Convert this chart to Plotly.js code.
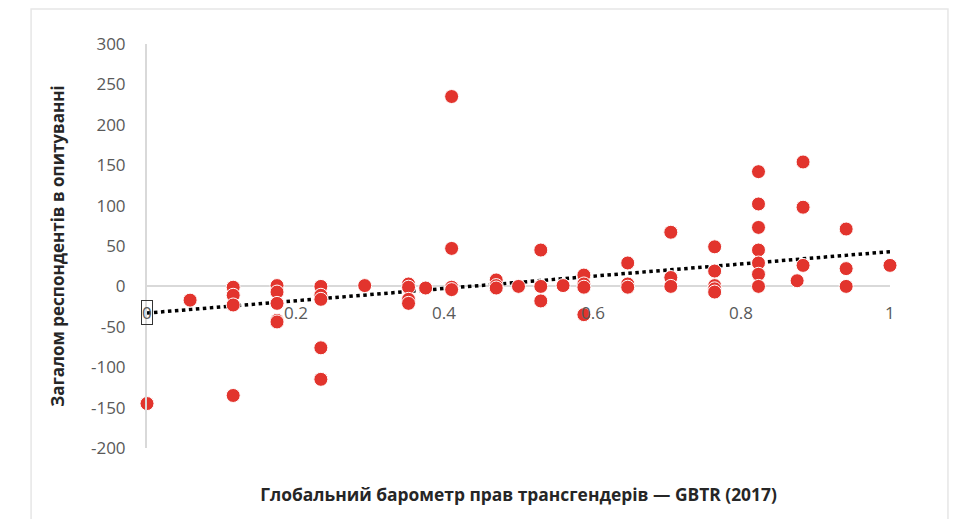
<!DOCTYPE html>
<html>
<head>
<meta charset="utf-8">
<script src="https://cdn.plot.ly/plotly-3.0.1.min.js"></script>
<style>html,body{margin:0;padding:0;background:#fff;}#chart{width:957px;height:519px;}</style>
</head>
<body>
<div id="chart"></div>
<script>
// GBTR (2017) score for each country
const gbtr = [
  0,
  0.058,
  0.116, 0.116, 0.116, 0.116,
  0.175, 0.175, 0.175, 0.175, 0.175,
  0.234, 0.234, 0.234, 0.234, 0.234,
  0.293,
  0.352, 0.352, 0.352, 0.352,
  0.375,
  0.41, 0.41, 0.41, 0.41,
  0.47, 0.47, 0.47,
  0.5,
  0.53, 0.53, 0.53,
  0.56,
  0.588, 0.588, 0.588, 0.588,
  0.647, 0.647, 0.647,
  0.705, 0.705, 0.705,
  0.764, 0.764, 0.764, 0.764, 0.764,
  0.823, 0.823, 0.823, 0.823, 0.823, 0.823, 0.823,
  0.875,
  0.883, 0.883, 0.883,
  0.941, 0.941, 0.941,
  1.0
];
// Total respondents in survey
const respondents = [
  -145,
  -17,
  -1, -11, -23, -135,
  1, -7, -21, -42, -44,
  0, -11, -16, -76, -115,
  1,
  3, -1, -16, -21,
  -2,
  -1, -4, 47, 235,
  8, 1, -2,
  0,
  45, 0, -18,
  1,
  14, 3, -1, -35,
  29, 3, -1,
  67, 11, 0,
  49, 19, 1, -3, -7,
  142, 102, 73, 45, 29, 15, 0,
  7,
  154, 98, 26,
  71, 22, 0,
  26
];
// Linear trendline as shown in the chart (values at GBTR = 0 and 1)
const trendX = [0, 1];
const trendY = [-33, 43];

const xTickVals = [0, 0.2, 0.4, 0.6, 0.8, 1];
const xTickText = ['0', '0.2', '0.4', '0.6', '0.8', '1'];
const yTickVals = [300, 250, 200, 150, 100, 50, 0, -50, -100, -150, -200];
const yTickText = ['300', '250', '200', '150', '100', '50', '0', '-50', '-100', '-150', '-200'];

const font = "'Open Sans', 'Noto Sans', sans-serif";

const traces = [
  {
    x: trendX, y: trendY, type: 'scatter', mode: 'lines',
    line: {color: '#000', width: 3.5, dash: 'dot'},
    hoverinfo: 'skip', cliponaxis: false
  },
  {
    x: gbtr, y: respondents, type: 'scatter', mode: 'markers',
    marker: {color: '#E2342D', size: 14, line: {color: '#ffffff', width: 1}},
    cliponaxis: false
  }
];

const annotations = xTickVals.map((v, i) => ({
  x: v, y: 0, xref: 'x', yref: 'y', text: xTickText[i], showarrow: false,
  yshift: -26, font: {family: font, size: 17, color: '#595959'},
  bordercolor: i === 0 ? '#333333' : 'rgba(0,0,0,0)', borderwidth: i === 0 ? 1 : 0, borderpad: 0
}));

const layout = {
  width: 957, height: 519,
  margin: {l: 147, r: 67, t: 44, b: 71},
  paper_bgcolor: '#fff', plot_bgcolor: '#fff',
  showlegend: false,
  font: {family: font, color: '#595959'},
  xaxis: {
    range: [0, 1], showgrid: false, zeroline: false, showticklabels: false,
    showline: false, ticks: '',
    title: {text: 'Глобальний барометр прав трансгендерів — GBTR (2017)', standoff: 40,
      font: {family: font, size: 17.4, color: '#262626', weight: 'bold'}}
  },
  yaxis: {
    range: [-200, 300], tickmode: 'array', tickvals: yTickVals, ticktext: yTickText,
    showgrid: false,
    zeroline: true, zerolinecolor: '#d9d9d9', zerolinewidth: 2,
    showline: true, linecolor: '#d9d9d9', linewidth: 2,
    ticks: '', ticklabelstandoff: 16,
    tickfont: {family: font, size: 17, color: '#595959'},
    title: {text: 'Загалом респондентів в опитуванні', standoff: 22,
      font: {family: font, size: 17, color: '#262626', weight: 'bold'}}
  },
  annotations: annotations,
  shapes: [{
    type: 'rect', xref: 'paper', yref: 'paper',
    x0: -0.156, x1: 1.078, y0: -0.3, y1: 1.0866,
    line: {color: '#e6e6e6', width: 1.5}, layer: 'below'
  }]
};

Plotly.newPlot('chart', traces, layout, {displayModeBar: false, staticPlot: true});
</script>
</body>
</html>
